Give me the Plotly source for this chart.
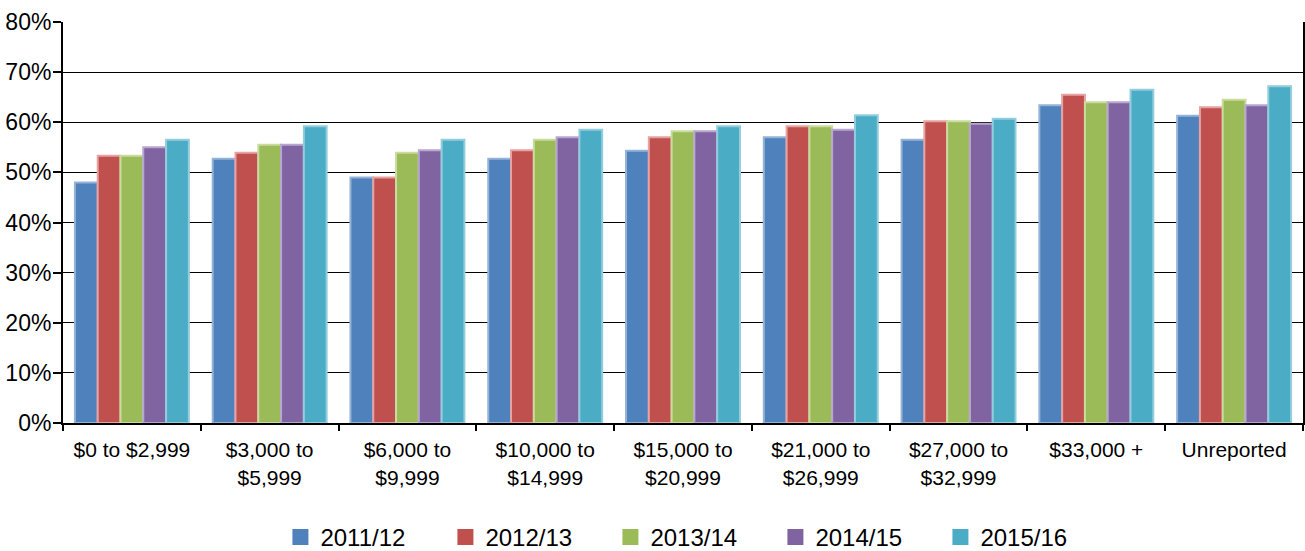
import plotly.graph_objects as go

categories = ["$0 to $2,999", "$3,000 to<br>$5,999", "$6,000 to<br>$9,999",
              "$10,000 to<br>$14,999", "$15,000 to<br>$20,999", "$21,000 to<br>$26,999",
              "$27,000 to<br>$32,999", "$33,000 +", "Unreported"]

series_names = ["2011/12", "2012/13", "2013/14", "2014/15", "2015/16"]

v2011 = [48.0, 52.7, 49.0, 52.7, 54.3, 57.0, 56.5, 63.4, 61.3]
v2012 = [53.3, 53.9, 49.0, 54.4, 57.0, 59.2, 60.2, 65.5, 63.0]
v2013 = [53.3, 55.5, 53.9, 56.5, 58.2, 59.2, 60.2, 64.0, 64.5]
v2014 = [55.0, 55.5, 54.4, 57.0, 58.2, 58.5, 59.7, 64.0, 63.4]
v2015 = [56.5, 59.2, 56.5, 58.5, 59.2, 61.4, 60.7, 66.5, 67.2]

values = [v2011, v2012, v2013, v2014, v2015]
fill_colors = ["#4F81BD", "#C0504D", "#9BBB59", "#8064A2", "#4BACC6"]
edge_colors = ["#95B3D7", "#E6A3A1", "#C9DC9E", "#B7A6CF", "#93CDDD"]

FONT = "Liberation Sans, Arial, sans-serif"

fig = go.Figure()
for name, vals, fc, ec in zip(series_names, values, fill_colors, edge_colors):
    fig.add_trace(go.Bar(
        x=categories, y=[v / 100 for v in vals], name=name,
        marker=dict(color=fc, line=dict(color=ec, width=2)),
        showlegend=False,
    ))
# legend entries (square swatches)
for name, fc in zip(series_names, fill_colors):
    fig.add_trace(go.Scatter(
        x=[None], y=[None], mode="markers", name=name,
        marker=dict(symbol="square", size=17, color=fc),
    ))

fig.update_layout(
    width=1305, height=551,
    margin=dict(l=63, r=2, t=22, b=128, autoexpand=False),
    paper_bgcolor="white", plot_bgcolor="white",
    barmode="group", bargap=0.173, bargroupgap=0,
    font=dict(family=FONT, size=21, color="black"),
    legend=dict(orientation="h", x=0.508, xanchor="center", y=-0.285, yanchor="middle",
                font=dict(size=24, family=FONT), entrywidth=120, entrywidthmode="pixels"),
)
fig.update_xaxes(
    showline=True, linecolor="black", linewidth=2,
    ticks="outside", tickson="boundaries", ticklen=6, tickcolor="black", tickwidth=2,
    tickfont=dict(size=21, family=FONT, color="black"),
    ticklabelstandoff=7,
    showgrid=False, automargin=False,
)
fig.update_yaxes(
    range=[0, 0.8], dtick=0.1, tickformat=".0%",
    showline=True, linecolor="black", linewidth=2, mirror=True,
    ticks="outside", ticklen=8, tickcolor="black", tickwidth=2,
    showgrid=True, gridcolor="black", gridwidth=1,
    tickfont=dict(size=23, family=FONT, color="black"),
    ticklabelstandoff=-3,
    zeroline=False, automargin=False,
)

fig.write_html("out.html", config={"displayModeBar": False},
               post_script="document.body.style.margin='0';document.body.style.overflow='hidden';")
